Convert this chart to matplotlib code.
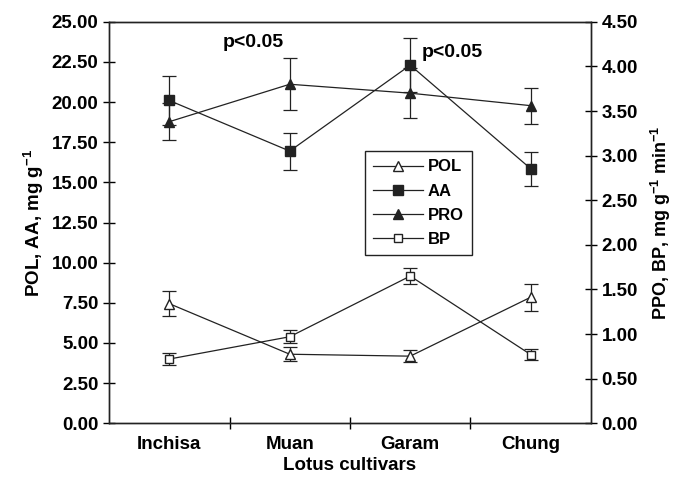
import numpy as np
import matplotlib
matplotlib.use('Agg')
import matplotlib.pyplot as plt
from matplotlib.lines import Line2D
from matplotlib.ticker import FormatStrFormatter, FixedLocator

plt.rcParams['font.family'] = ['Liberation Sans', 'DejaVu Sans']
plt.rcParams['font.weight'] = 'bold'
plt.rcParams['mathtext.fontset'] = 'custom'
plt.rcParams['mathtext.rm'] = 'Liberation Sans:bold'
plt.rcParams['mathtext.it'] = 'Liberation Sans:bold'
plt.rcParams['mathtext.bf'] = 'Liberation Sans:bold'

cultivars = ['Inchisa', 'Muan', 'Garam', 'Chung']

# left axis (mg g-1)
pol = [7.45, 4.30, 4.18, 7.85]
pol_err = [0.80, 0.45, 0.37, 0.85]
aa = [20.1, 16.95, 22.3, 15.85]
aa_err = [1.5, 1.15, 1.7, 1.05]

# right axis (mg g-1 min-1)
pro = [3.38, 3.80, 3.70, 3.56]
pro_err = [0.21, 0.29, 0.28, 0.20]
bp = [0.72, 0.97, 1.65, 0.77]
bp_err = [0.065, 0.07, 0.09, 0.06]

x = np.arange(len(cultivars))
ink = '#222222'

fig = plt.figure(figsize=(6.75, 4.82), dpi=100)
ax = fig.add_axes([0.1615, 0.1218, 0.714, 0.833])
ax2 = ax.twinx()

lw = 0.9
ekw = dict(elinewidth=lw, capsize=5, capthick=lw, color=ink)

styles = {
    'POL': dict(marker='^', ms=7, mfc='white'),
    'AA': dict(marker='s', ms=6.5, mfc=ink),
    'PRO': dict(marker='^', ms=7.5, mfc=ink),
    'BP': dict(marker='s', ms=5.5, mfc='white'),
}

ax.errorbar(x, pol, yerr=pol_err, mec=ink, lw=lw, **styles['POL'], **ekw)
ax.errorbar(x, aa, yerr=aa_err, mec=ink, lw=lw, **styles['AA'], **ekw)
ax2.errorbar(x, pro, yerr=pro_err, mec=ink, lw=lw, **styles['PRO'], **ekw)
ax2.errorbar(x, bp, yerr=bp_err, mec=ink, lw=lw, **styles['BP'], **ekw)

ax.set_xlim(-0.5, 3.5)
ax.set_ylim(0, 25)
ax2.set_ylim(0, 4.5)

ax.set_yticks(np.arange(0, 25.01, 2.5))
ax2.set_yticks(np.arange(0, 4.501, 0.5))
ax.yaxis.set_major_formatter(FormatStrFormatter('%.2f'))
ax2.yaxis.set_major_formatter(FormatStrFormatter('%.2f'))

# category labels centred, ticks between categories
ax.xaxis.set_major_locator(FixedLocator([0.5, 1.5, 2.5]))
ax.xaxis.set_major_formatter(plt.NullFormatter())
ax.xaxis.set_minor_locator(FixedLocator(x))
ax.set_xticklabels(cultivars, minor=True)
ax.tick_params(axis='x', which='minor', length=0, labelsize=13.5, pad=9)
ax.tick_params(axis='x', which='major', direction='inout', length=8, width=1)
ax.tick_params(axis='y', direction='inout', length=8, width=1, labelsize=13.5)
ax2.tick_params(axis='y', direction='inout', length=8, width=1, labelsize=13.5)

for a in (ax, ax2):
    for s in a.spines.values():
        s.set_linewidth(1)
        s.set_color(ink)

ax.set_xlabel('Lotus cultivars', fontsize=13.5, fontweight='bold', labelpad=3)
ax.set_ylabel('POL, AA, mg g$^{-1}$', fontsize=13.5, fontweight='bold', labelpad=4)
ax2.set_ylabel('PPO, BP, mg g$^{-1}$ min$^{-1}$', fontsize=13,
               fontweight='bold', rotation=90, labelpad=8)

ax.text(0.70, 23.7, 'p<0.05', fontsize=14, fontweight='bold',
        ha='center', va='center')
ax.text(2.35, 23.1, 'p<0.05', fontsize=14, fontweight='bold',
        ha='center', va='center')

handles = [Line2D([], [], color=ink, lw=lw, mec=ink, **styles[k])
           for k in ['POL', 'AA', 'PRO', 'BP']]
leg = ax2.legend(handles, ['POL', 'AA', 'PRO', 'BP'],
                 loc='upper left', bbox_to_anchor=(0.531, 0.678),
                 borderaxespad=0, fancybox=False, framealpha=1,
                 edgecolor=ink, fontsize=12, handlelength=3.0,
                 labelspacing=0.55, handletextpad=0.25, borderpad=0.5)
leg.get_frame().set_linewidth(1)

fig.savefig('out.png', dpi=100)
